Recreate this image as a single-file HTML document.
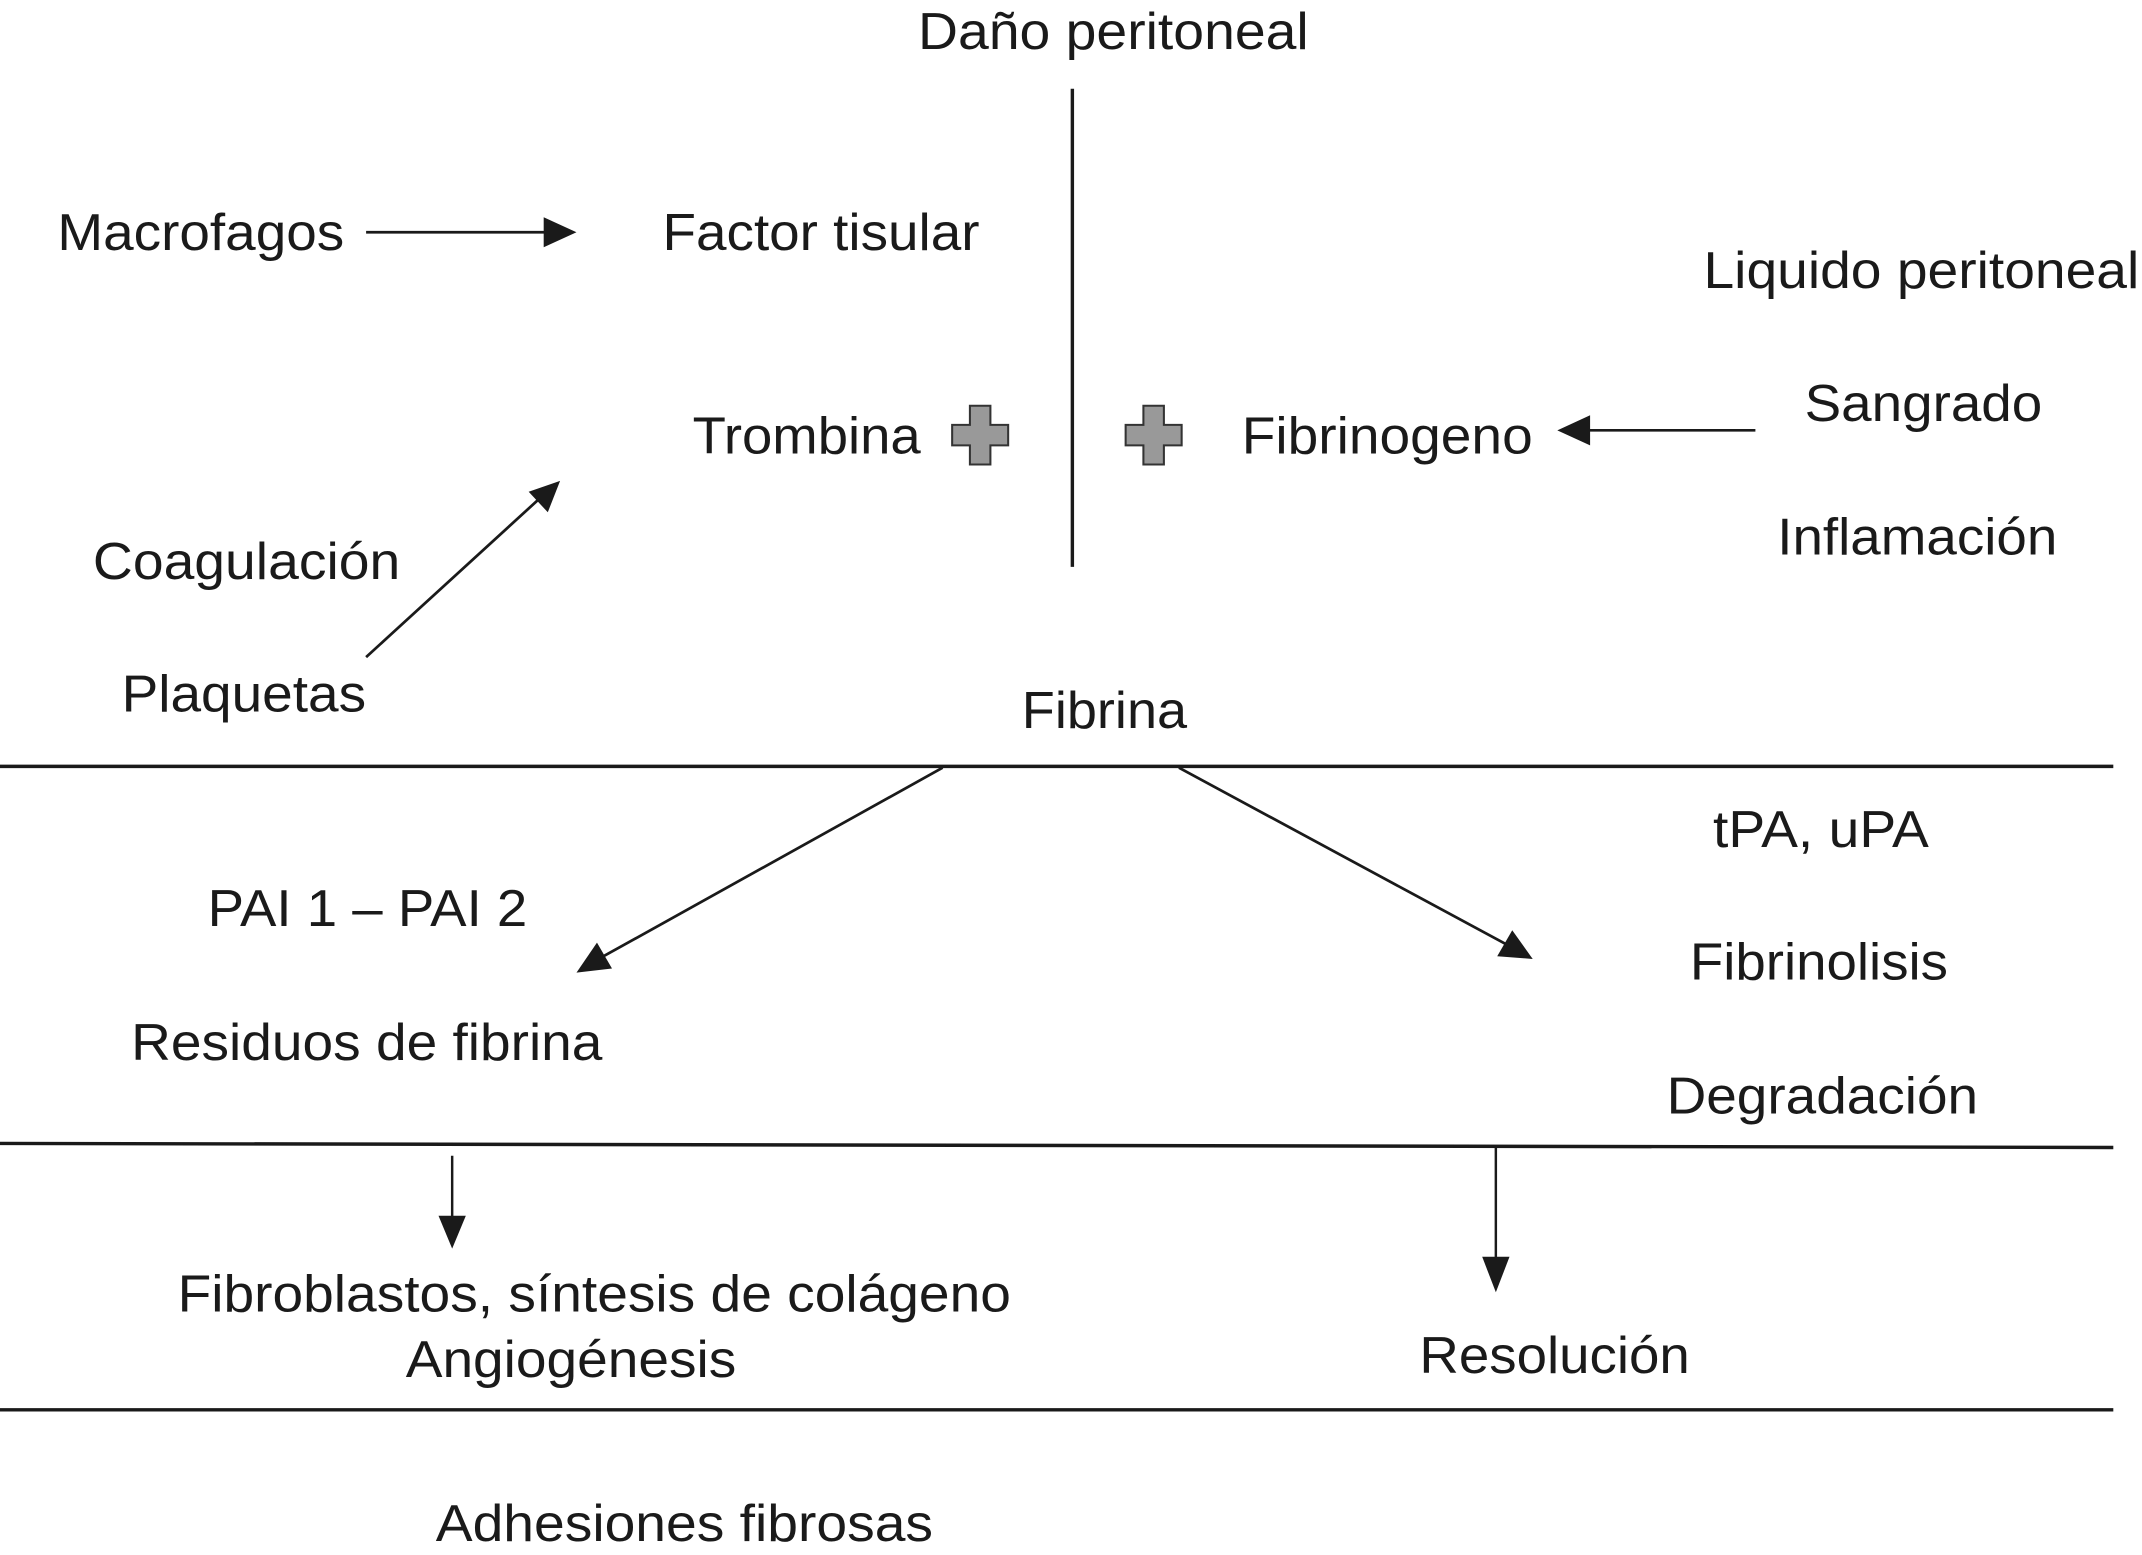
<!DOCTYPE html>
<html><head><meta charset="utf-8"><style>
html,body{margin:0;padding:0;background:#fff;}
svg{display:block;}
text{font-family:"Liberation Sans",Arial,sans-serif;font-size:38px;fill:#1a1a1a;}
</style></head><body>
<svg width="2142" height="1555" viewBox="0 0 1568 1138.3" preserveAspectRatio="none" xmlns="http://www.w3.org/2000/svg">
<g stroke="#1a1a1a" fill="none">
<line x1="785" y1="65" x2="785" y2="415" stroke-width="2.5"/>
<line x1="0" y1="561" x2="1547" y2="561" stroke-width="2.5"/>
<line x1="0" y1="837" x2="1547" y2="840" stroke-width="2.5"/>
<line x1="0" y1="1032" x2="1547" y2="1032" stroke-width="2.5"/>
<line x1="268" y1="170" x2="402" y2="170" stroke-width="2"/>
<line x1="1285" y1="315" x2="1160" y2="315" stroke-width="2"/>
<line x1="268" y1="481" x2="396" y2="364" stroke-width="2"/>
<line x1="690" y1="562" x2="440" y2="701" stroke-width="2"/>
<line x1="863" y1="562" x2="1104" y2="692" stroke-width="2"/>
<line x1="331" y1="846" x2="331" y2="895" stroke-width="1.8"/>
<line x1="1095" y1="840" x2="1095" y2="925" stroke-width="1.8"/>
</g>
<g fill="#1a1a1a">
<polygon points="422,170 398,159 398,181"/>
<polygon points="1140,315 1164,304 1164,326"/>
<polygon points="410,352 387,360 401,375"/>
<polygon points="422,712 448,709 437,690"/>
<polygon points="1122,702 1096,700 1107,681"/>
<polygon points="331,914 321,890 341,890"/>
<polygon points="1095,946 1085,920 1105,920"/>
</g>
<g fill="#999" stroke="#333" stroke-width="1.5">
<path d="M710,297 h15 v14 h13 v15 h-13 v14 h-15 v-14 h-13 v-15 h13 z"/>
<path d="M837,297 h15 v14 h13 v15 h-13 v14 h-15 v-14 h-13 v-15 h13 z"/>
</g>
<text x="672" y="36" textLength="286" lengthAdjust="spacingAndGlyphs">Daño peritoneal</text>
<text x="42" y="183" textLength="210" lengthAdjust="spacingAndGlyphs">Macrofagos</text>
<text x="485" y="183" textLength="232" lengthAdjust="spacingAndGlyphs">Factor tisular</text>
<text x="1247" y="211" textLength="319" lengthAdjust="spacingAndGlyphs">Liquido peritoneal</text>
<text x="507" y="332" textLength="167" lengthAdjust="spacingAndGlyphs">Trombina</text>
<text x="909" y="332" textLength="213" lengthAdjust="spacingAndGlyphs">Fibrinogeno</text>
<text x="1321" y="308" textLength="174" lengthAdjust="spacingAndGlyphs">Sangrado</text>
<text x="1301" y="406" textLength="205" lengthAdjust="spacingAndGlyphs">Inflamación</text>
<text x="68" y="424" textLength="225" lengthAdjust="spacingAndGlyphs">Coagulación</text>
<text x="89" y="521" textLength="179" lengthAdjust="spacingAndGlyphs">Plaquetas</text>
<text x="748" y="533" textLength="121" lengthAdjust="spacingAndGlyphs">Fibrina</text>
<text x="1254" y="620" textLength="158" lengthAdjust="spacingAndGlyphs">tPA, uPA</text>
<text x="152" y="678" textLength="234" lengthAdjust="spacingAndGlyphs">PAI 1 – PAI 2</text>
<text x="1237" y="717" textLength="189" lengthAdjust="spacingAndGlyphs">Fibrinolisis</text>
<text x="96" y="776" textLength="345" lengthAdjust="spacingAndGlyphs">Residuos de fibrina</text>
<text x="1220" y="815" textLength="228" lengthAdjust="spacingAndGlyphs">Degradación</text>
<text x="130" y="960" textLength="610" lengthAdjust="spacingAndGlyphs">Fibroblastos, síntesis de colágeno</text>
<text x="297" y="1008" textLength="242" lengthAdjust="spacingAndGlyphs">Angiogénesis</text>
<text x="1039" y="1005" textLength="198" lengthAdjust="spacingAndGlyphs">Resolución</text>
<text x="319" y="1128" textLength="364" lengthAdjust="spacingAndGlyphs">Adhesiones fibrosas</text>
</svg>
</body></html>
